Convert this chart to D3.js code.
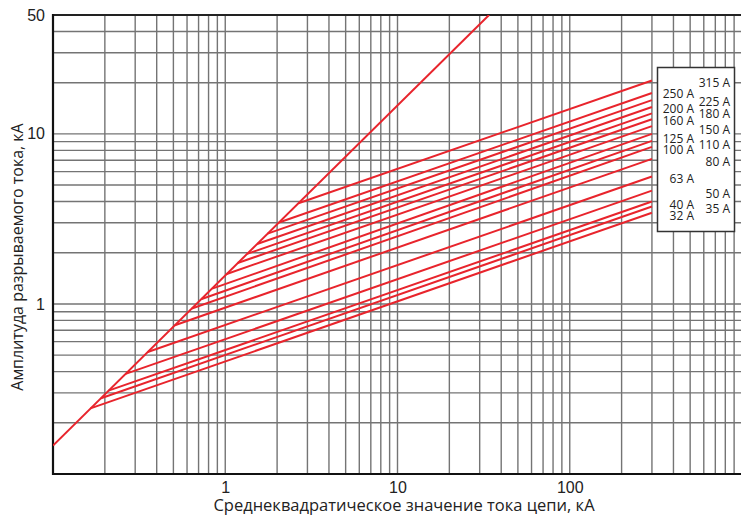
<!DOCTYPE html>
<html><head><meta charset="utf-8">
<script src="https://cdn.jsdelivr.net/npm/d3@7"></script>
<style>body{margin:0;background:#fff}svg{display:block}</style>
</head><body>
<svg id="c" width="741" height="515"></svg>
<script>
// ---- data ----
const ratings      = ["315 A","250 A","225 A","200 A","180 A","160 A","150 A","125 A","110 A","100 A","80 A","63 A","50 A","40 A","35 A","32 A"];
const startRmsKA   = [2.66, 2.05, 1.76, 1.53, 1.34, 1.18, 1.02, 0.84, 0.73, 0.64, 0.51, 0.355, 0.264, 0.21, 0.19, 0.165];
const startPeakKA  = [3.91, 3.01, 2.59, 2.25, 1.97, 1.74, 1.50, 1.23, 1.07, 0.94, 0.75, 0.522, 0.388, 0.309, 0.279, 0.243];
const endRmsKA     = [300, 300, 300, 300, 300, 300, 300, 300, 300, 300, 300, 300, 300, 300, 300, 300];
const endPeakKA    = [20.6, 17.4, 15.8, 14.4, 13.2, 12.2, 11.1, 10.0, 9.1, 8.39, 7.13, 5.61, 4.64, 4.0, 3.74, 3.44];
const envelopeRms  = [0.1, 34];
const envelopePeak = [0.147, 50];
const xTicks = [1, 10, 100];
const yTicks = [1, 10, 50];
const legendLeft  = ["250 A","200 A","160 A","125 A","100 A","63 A","40 A","32 A"];
const legendRight = ["315 A","225 A","180 A","150 A","110 A","80 A","50 A","35 A"];

// ---- layout ----
const svg = d3.select("#c");
const L = 53, R = 742, T = 15, B = 474;
const x = d3.scaleLog().domain([0.1, 1000]).range([L, R]);
const y = d3.scaleLog().domain([0.1, 50]).range([B, T]);

svg.append("defs").append("clipPath").attr("id","clip")
  .append("rect").attr("x",L).attr("y",T).attr("width",R-L).attr("height",B-T);

// grid
const xGrid = [];
[0.1,1,10,100].forEach(d => { for (let k=1;k<=9;k++) xGrid.push(d*k); });
xGrid.push(1000);
const yGrid = [];
[0.1,1,10].forEach(d => { for (let k=1;k<=9;k++) { if (d*k<=50) yGrid.push(d*k); } });

const g = svg.append("g");
g.selectAll(".vx").data(xGrid.filter(v=>v>0.1)).enter().append("line")
  .attr("x1",d=>x(d)).attr("x2",d=>x(d)).attr("y1",T).attr("y2",B)
  .attr("stroke","#747474").attr("stroke-width",1.4);
g.selectAll(".hy").data(yGrid.filter(v=>v>0.1 && v<50)).enter().append("line")
  .attr("x1",L).attr("x2",R).attr("y1",d=>y(d)).attr("y2",d=>y(d))
  .attr("stroke","#747474").attr("stroke-width",1.4);

// axes frame
svg.append("line").attr("x1",L).attr("x2",R).attr("y1",B).attr("y2",B).attr("stroke","#111").attr("stroke-width",2.2);
svg.append("line").attr("x1",L).attr("x2",R).attr("y1",T).attr("y2",T).attr("stroke","#222").attr("stroke-width",2.2);
svg.append("line").attr("x1",L).attr("x2",L).attr("y1",T-1).attr("y2",B+1).attr("stroke","#111").attr("stroke-width",2.2);

// tick labels via axes
const xAxis = d3.axisBottom(x).tickValues(xTicks).tickFormat(d3.format("d")).tickSize(0).tickPadding(8);
const xa = svg.append("g").attr("transform",`translate(0,${B})`).call(xAxis);
xa.select(".domain").remove();
xa.selectAll("text").attr("font-family","Liberation Sans, Arial, sans-serif").attr("font-size",16).attr("fill","#222");

const yAxis = d3.axisLeft(y).tickValues(yTicks).tickFormat(d3.format("d")).tickSize(0).tickPadding(8);
const ya = svg.append("g").attr("transform",`translate(${L},0)`).call(yAxis);
ya.select(".domain").remove();
ya.selectAll("text").attr("font-family","Liberation Sans, Arial, sans-serif").attr("font-size",16).attr("fill","#222");

// titles
svg.append("text").attr("x",404).attr("y",511).attr("text-anchor","middle")
  .attr("font-family","Open Sans, Noto Sans, sans-serif").attr("font-size",16.5).attr("fill","#222")
  .text("Среднеквадратическое значение тока цепи, кА");
svg.append("text").attr("transform","translate(23,257) rotate(-90)").attr("text-anchor","middle")
  .attr("font-family","Open Sans, Noto Sans, sans-serif").attr("font-size",16).attr("fill","#222")
  .text("Амплитуда разрываемого тока, кА");

// curves
const plot = svg.append("g").attr("clip-path","url(#clip)");
const red = "#e8242c";
plot.append("line")
  .attr("x1",x(envelopeRms[0])).attr("y1",y(envelopePeak[0]))
  .attr("x2",x(envelopeRms[1])).attr("y2",y(envelopePeak[1]))
  .attr("stroke",red).attr("stroke-width",2);
plot.selectAll(".fuse").data(ratings).enter().append("line")
  .attr("x1",(d,i)=>x(startRmsKA[i])).attr("y1",(d,i)=>y(startPeakKA[i]))
  .attr("x2",(d,i)=>x(endRmsKA[i])).attr("y2",(d,i)=>y(endPeakKA[i]))
  .attr("stroke",red).attr("stroke-width",2);

// legend box
const lg = svg.append("g");
lg.append("rect").attr("x",657.5).attr("y",67.5).attr("width",77).attr("height",164)
  .attr("fill","#fff").attr("stroke","#333").attr("stroke-width",1.5);
const labelY = d => { const i = ratings.indexOf(d); return y(endPeakKA[i]) + 6; };
const adj = {"315 A":2,"250 A":1,"225 A":1.5,"200 A":2,"180 A":0.5,"160 A":1.5,"150 A":3,"125 A":5,"110 A":4,"100 A":3,"80 A":3,"63 A":1.5,"50 A":2.5,"40 A":2.5,"35 A":1.5,"32 A":2.5};
lg.selectAll(".ll").data(legendLeft).enter().append("text")
  .attr("x",694).attr("y",d=>labelY(d)+adj[d]-1.5).attr("text-anchor","end")
  .attr("font-family","Open Sans, Noto Sans, sans-serif").attr("font-size",12).attr("fill","#222").text(d=>d);
lg.selectAll(".lr").data(legendRight).enter().append("text")
  .attr("x",730).attr("y",d=>labelY(d)+adj[d]-1.5).attr("text-anchor","end")
  .attr("font-family","Open Sans, Noto Sans, sans-serif").attr("font-size",12).attr("fill","#222").text(d=>d);
</script>
</body></html>
